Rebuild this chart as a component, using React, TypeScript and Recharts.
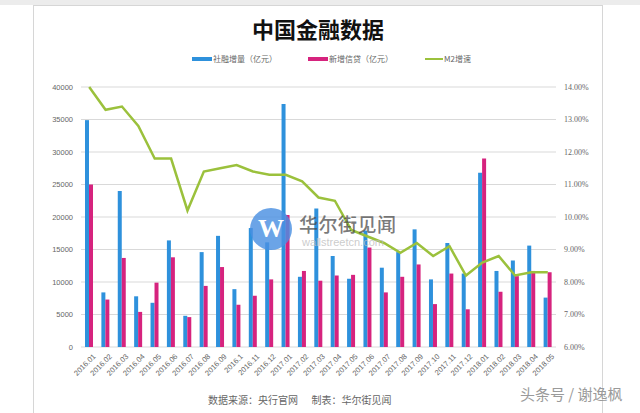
import {
  Bar,
  CartesianGrid,
  ComposedChart,
  Line,
  XAxis,
  YAxis,
} from "recharts";

const months = [
  "2016.01", "2016.02", "2016.03", "2016.04", "2016.05", "2016.06",
  "2016.07", "2016.08", "2016.09", "2016.1", "2016.11", "2016.12",
  "2017.01", "2017.02", "2017.03", "2017.04", "2017.05", "2017.06",
  "2017.07", "2017.08", "2017.09", "2017.10", "2017.11", "2017.12",
  "2018.01", "2018.02", "2018.03", "2018.04", "2018.05",
];

// 社融增量（亿元）
const socialFinancing = [
  34900, 8400, 24000, 7800, 6800, 16400, 4800, 14600, 17100, 8900, 18300, 16100,
  37400, 10800, 21300, 14000, 10500, 17900, 12200, 14600, 18100, 10400, 16000, 11300,
  26800, 11700, 13300, 15600, 7600,
];

// 新增信贷（亿元）
const newLoans = [
  25000, 7300, 13700, 5400, 9900, 13800, 4600, 9400, 12300, 6500, 7900, 10400,
  20300, 11700, 10200, 11000, 11100, 15300, 8400, 10800, 12700, 6600, 11300, 5800,
  29000, 8500, 10900, 11700, 11500,
];

// M2增速 (%)
const m2Growth = [
  14.0, 13.3, 13.4, 12.8, 11.8, 11.8, 10.2, 11.4, 11.5, 11.6, 11.4, 11.3,
  11.3, 11.1, 10.6, 10.5, 9.6, 9.4, 9.2, 8.9, 9.2, 8.8, 9.1, 8.2,
  8.6, 8.8, 8.2, 8.3, 8.3,
];

const leftTicks = [0, 5000, 10000, 15000, 20000, 25000, 30000, 35000, 40000];
const rightTicks = [6, 7, 8, 9, 10, 11, 12, 13, 14];

const BLUE = "#2e91dc";
const PINK = "#d6237e";
const GREEN = "#9bc13c";
const CJK = "'Noto Sans CJK SC', 'Noto Sans', sans-serif";

const data = months.map((month, i) => ({
  month,
  social: socialFinancing[i],
  loans: newLoans[i],
  m2: m2Growth[i],
}));

function MonthTick({ x, y, payload }: any) {
  return (
    <text
      x={0}
      y={0}
      transform={`translate(${x + 3},${y - 2}) rotate(-45)`}
      textAnchor="end"
      dominantBaseline="hanging"
      fontSize={7.5}
      fontFamily="'Liberation Sans', sans-serif"
      fill="#666"
    >
      {payload.value}
    </text>
  );
}

function LegendItem({ color, label, line }: { color: string; label: string; line?: boolean }) {
  return (
    <div style={{ display: "flex", alignItems: "center", gap: 1 }}>
      <span
        style={{
          display: "inline-block",
          width: line ? 18 : 20,
          height: line ? 2 : 4,
          background: color,
        }}
      />
      <span style={{ fontSize: 8, color: "#666", fontFamily: CJK }}>{label}</span>
    </div>
  );
}

export default function App() {
  return (
    <div
      style={{
        position: "absolute",
        left: 0,
        top: 0,
        width: 640,
        height: 413,
        overflow: "hidden",
        background: "#fff",
      }}
    >
      <div style={{ position: "absolute", left: 0, top: 0, width: 640, height: 5, background: "#ececec" }} />
      <div
        style={{
          position: "absolute",
          left: 33,
          top: 5,
          width: 568,
          height: 430,
          border: "1px solid #d6d6d6",
        }}
      />
      <div
        style={{
          position: "absolute",
          left: 0,
          top: 12,
          width: 636,
          textAlign: "center",
          fontFamily: CJK,
          fontWeight: 700,
          fontSize: 22,
          color: "#111",
        }}
      >
        中国金融数据
      </div>
      <div style={{ position: "absolute", left: 192, top: 53 }}>
        <LegendItem color={BLUE} label="社融增量（亿元）" />
      </div>
      <div style={{ position: "absolute", left: 308, top: 53 }}>
        <LegendItem color={PINK} label="新增信贷（亿元）" />
      </div>
      <div style={{ position: "absolute", left: 425, top: 53 }}>
        <LegendItem color={GREEN} label="M2增速" line />
      </div>

      <div style={{ position: "absolute", left: 0, top: 0 }}>
        <ComposedChart
          width={640}
          height={413}
          data={data}
          margin={{ top: 87, right: 39, bottom: 16, left: 31 }}
          barGap={0}
        >
          <CartesianGrid vertical={false} stroke="#d9d9d9" yAxisId="left" />
          <XAxis
            dataKey="month"
            interval={0}
            axisLine={false}
            tickLine={false}
            height={50}
            tick={<MonthTick />}
          />
          <YAxis
            yAxisId="left"
            width={50}
            domain={[0, 40000]}
            ticks={leftTicks}
            axisLine={false}
            tickLine={false}
            tick={{ fontSize: 7.5, fill: "#666", fontFamily: "'Liberation Sans', sans-serif" }}
          />
          <YAxis
            yAxisId="right"
            orientation="right"
            width={45}
            domain={[6, 14]}
            ticks={rightTicks}
            axisLine={false}
            tickLine={false}
            tickFormatter={(v: number) => `${v.toFixed(2)}%`}
            tick={{ fontSize: 8, fill: "#666", fontFamily: "'Liberation Serif', serif" }}
          />
          <Bar yAxisId="left" dataKey="social" name="社融增量（亿元）" fill={BLUE} barSize={4} isAnimationActive={false} />
          <Bar yAxisId="left" dataKey="loans" name="新增信贷（亿元）" fill={PINK} barSize={4} isAnimationActive={false} />
          <Line
            yAxisId="right"
            type="linear"
            dataKey="m2"
            name="M2增速"
            stroke={GREEN}
            strokeWidth={2.5}
            dot={false}
            isAnimationActive={false}
          />
        </ComposedChart>
      </div>

      {/* watermark */}
      <div
        style={{
          position: "absolute",
          left: 250,
          top: 208,
          width: 42,
          height: 42,
          borderRadius: "50%",
          background: "rgba(74,144,226,0.82)",
          color: "#fff",
          fontFamily: "'Liberation Serif', serif",
          fontWeight: 700,
          fontSize: 26,
          lineHeight: "42px",
          textAlign: "center",
        }}
      >
        W
      </div>
      <div
        style={{
          position: "absolute",
          left: 299,
          top: 210,
          fontFamily: CJK,
          fontWeight: 500,
          fontSize: 19,
          color: "rgba(70,70,70,0.72)",
          letterSpacing: 0.5,
        }}
      >
        华尔街见闻
      </div>
      <div
        style={{
          position: "absolute",
          left: 302,
          top: 236,
          fontFamily: "'Liberation Sans', sans-serif",
          fontSize: 11,
          color: "rgba(190,190,190,0.8)",
        }}
      >
        wallstreetcn.com
      </div>

      <div
        style={{
          position: "absolute",
          left: 208,
          top: 392,
          fontFamily: CJK,
          fontSize: 10,
          color: "#666",
          whiteSpace: "pre",
        }}
      >
        数据来源：央行官网      制表：华尔街见闻
      </div>
      <div
        style={{
          position: "absolute",
          left: 520,
          top: 383,
          fontFamily: CJK,
          fontSize: 15,
          color: "#9a9a9a",
          whiteSpace: "pre",
          textShadow: "0 0 1px #fff",
        }}
      >
        头条号 / 谢逸枫
      </div>
    </div>
  );
}
